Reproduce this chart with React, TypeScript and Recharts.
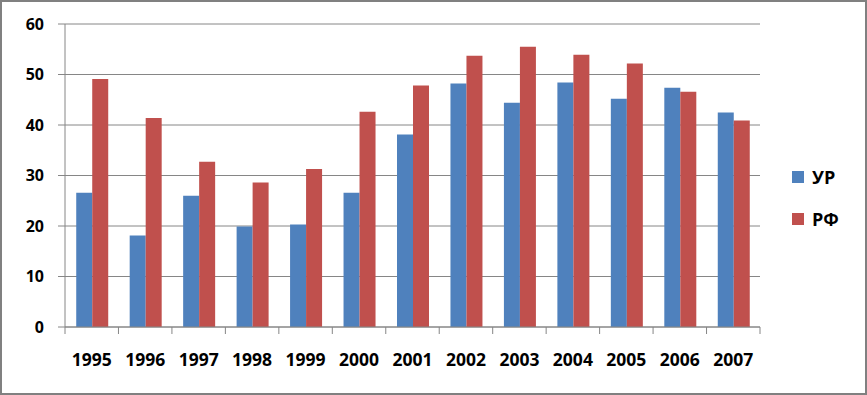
import { BarChart, Bar, XAxis, YAxis, CartesianGrid, Legend } from "recharts";

const years = ["1995", "1996", "1997", "1998", "1999", "2000", "2001", "2002", "2003", "2004", "2005", "2006", "2007"];
const urValues = [26.6, 18.1, 26.0, 19.9, 20.3, 26.6, 38.1, 48.2, 44.4, 48.4, 45.2, 47.4, 42.5];
const rfValues = [49.1, 41.4, 32.7, 28.6, 31.3, 42.6, 47.8, 53.7, 55.5, 53.9, 52.2, 46.6, 40.9];
const yTicks = [0, 10, 20, 30, 40, 50, 60];

const series = [
  { key: "ur", name: "УР", color: "#4F81BD" },
  { key: "rf", name: "РФ", color: "#C0504D" },
];

const data = years.map((year, i) => ({ year, ur: urValues[i], rf: rfValues[i] }));

const W = 863;
const H = 391;
const margin = { top: 22, right: 45, left: 0, bottom: 0 };
const yAxisWidth = 63;
const legendWidth = 60;
const plotWidth = W - margin.left - yAxisWidth - margin.right - legendWidth;
const halfBand = plotWidth / years.length / 2;
const gridColor = "#868686";
const font = "'Open Sans', sans-serif";

function YearTick(props: any) {
  const { x, y, payload, index } = props;
  const last = index === years.length - 1;
  return (
    <g>
      <line x1={x - halfBand} x2={x - halfBand} y1={y} y2={y + 7} stroke={gridColor} />
      {last && <line x1={x + halfBand} x2={x + halfBand} y1={y} y2={y + 7} stroke={gridColor} />}
      <text x={x} y={y + 39} textAnchor="middle" fontFamily={font} fontWeight={700} fontSize={17.5} fill="#000">
        {payload.value}
      </text>
    </g>
  );
}

function LegendBox() {
  return (
    <div style={{ width: legendWidth, fontFamily: font }}>
      {series.map((s) => (
        <div key={s.key} style={{ display: "flex", alignItems: "center", height: 42 }}>
          <span style={{ width: 12, height: 12, background: s.color, display: "inline-block", marginRight: 8 }} />
          <span style={{ fontSize: 18, fontWeight: 700, color: "#000" }}>{s.name}</span>
        </div>
      ))}
    </div>
  );
}

export default function App() {
  return (
    <div
      style={{
        position: "absolute",
        left: 0,
        top: 0,
        width: 867,
        height: 395,
        boxSizing: "border-box",
        border: "2px solid #808080",
        background: "#fff",
      }}
    >
      <BarChart width={W} height={H} data={data} margin={margin} barCategoryGap="21%" barGap={0}>
        <CartesianGrid vertical={false} stroke={gridColor} />
        <XAxis
          dataKey="year"
          height={66}
          stroke={gridColor}
          tickLine={false}
          tickSize={0}
          tickMargin={0}
          tick={<YearTick />}
          interval={0}
        />
        <YAxis
          width={yAxisWidth}
          domain={[0, 60]}
          ticks={yTicks}
          stroke={gridColor}
          tickSize={7}
          tickMargin={14}
          tick={{ fill: "#000", fontFamily: font, fontWeight: 700, fontSize: 16 }}
        />
        <Legend
          layout="vertical"
          align="right"
          verticalAlign="middle"
          content={<LegendBox />}
          wrapperStyle={{ left: 790, right: "auto", top: 153.5, width: legendWidth }}
        />
        {series.map((s) => (
          <Bar key={s.key} dataKey={s.key} name={s.name} fill={s.color} isAnimationActive={false} />
        ))}
      </BarChart>
    </div>
  );
}
